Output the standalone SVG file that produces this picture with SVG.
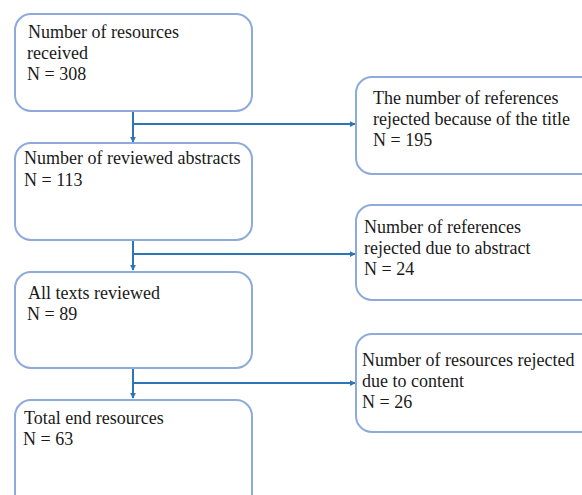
<svg xmlns="http://www.w3.org/2000/svg" width="582" height="495" viewBox="0 0 582 495">
<defs>
<marker id="ah" viewBox="0 0 8 8" refX="7" refY="4" markerWidth="6" markerHeight="6" markerUnits="userSpaceOnUse" orient="auto">
<path d="M0,0 L8,4 L0,8 z" fill="#2E75B6"/>
</marker>
<style>
.box{fill:#fff;stroke:#8EAADB;stroke-width:2}
.t{font-family:"Liberation Serif","Times New Roman",serif;font-size:18px;fill:#1a1a1a}
.c{fill:none;stroke:#2E75B6;stroke-width:2}
</style>
</defs>
<rect width="582" height="495" fill="#fff"/>
<g id="connectors">
<path class="c" d="M133,111 V142" marker-end="url(#ah)"/>
<path class="c" d="M133,124 H355" marker-end="url(#ah)"/>
<path class="c" d="M133,240 V270" marker-end="url(#ah)"/>
<path class="c" d="M133,254 H355" marker-end="url(#ah)"/>
<path class="c" d="M133,368 V398" marker-end="url(#ah)"/>
<path class="c" d="M133,383 H355" marker-end="url(#ah)"/>
</g>
<g id="n1">
<rect class="box" x="15" y="14" width="237" height="97" rx="16"/>
<text class="t" x="28" y="38">Number of resources</text>
<text class="t" x="27" y="59">received</text>
<text class="t" x="27" y="80">N = 308</text>
</g>
<g id="n2">
<rect class="box" x="15" y="143" width="237" height="97" rx="16"/>
<text class="t" x="24" y="164">Number of reviewed abstracts</text>
<text class="t" x="24" y="186">N = 113</text>
</g>
<g id="n3">
<rect class="box" x="15" y="272" width="237" height="96" rx="16"/>
<text class="t" x="28" y="299">All texts reviewed</text>
<text class="t" x="27" y="320">N = 89</text>
</g>
<g id="n4">
<rect class="box" x="15" y="400" width="237" height="110" rx="16"/>
<text class="t" x="24" y="424">Total end resources</text>
<text class="t" x="23" y="445">N = 63</text>
</g>
<g id="r1">
<rect class="box" x="356" y="77" width="240" height="97" rx="16"/>
<text class="t" x="373" y="104">The number of references</text>
<text class="t" x="373" y="125">rejected because of the title</text>
<text class="t" x="373" y="146">N = 195</text>
</g>
<g id="r2">
<rect class="box" x="356" y="205" width="240" height="95" rx="16"/>
<text class="t" x="364" y="233">Number of references</text>
<text class="t" x="364" y="254">rejected due to abstract</text>
<text class="t" x="364" y="275">N = 24</text>
</g>
<g id="r3">
<rect class="box" x="356" y="334" width="240" height="98" rx="16"/>
<text class="t" x="362" y="366">Number of resources rejected</text>
<text class="t" x="362" y="387">due to content</text>
<text class="t" x="362" y="408">N = 26</text>
</g>
</svg>
